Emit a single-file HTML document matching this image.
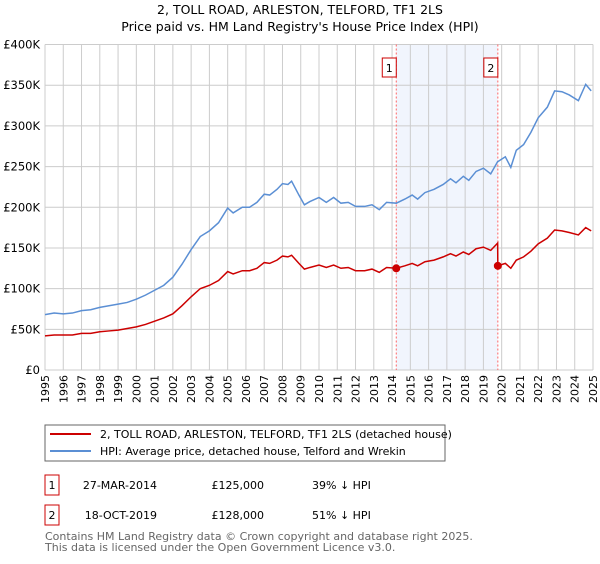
<!DOCTYPE html>
<html><head><meta charset="utf-8"><style>
body{margin:0;background:#fff;font-family:"DejaVu Sans","Liberation Sans",sans-serif;}
svg text{font-family:"DejaVu Sans","Liberation Sans",sans-serif;}
</style></head><body>
<svg id="chart" width="600" height="560" viewBox="0 0 600 560" xmlns="http://www.w3.org/2000/svg">
<text x="300" y="14" text-anchor="middle" font-size="12.5" fill="#000">2, TOLL ROAD, ARLESTON, TELFORD, TF1 2LS</text>
<text x="300" y="31" text-anchor="middle" font-size="12.5" fill="#000">Price paid vs. HM Land Registry's House Price Index (HPI)</text>
<g id="grid"></g>
<g id="marks"></g>
<g id="legend">
<rect x="45" y="425" width="400" height="36" fill="#fff" stroke="#666"/>
<line x1="50" y1="434" x2="91" y2="434" stroke="#cc0000" stroke-width="2"/>
<text x="100" y="438" font-size="11">2, TOLL ROAD, ARLESTON, TELFORD, TF1 2LS (detached house)</text>
<line x1="50" y1="451" x2="91" y2="451" stroke="#5b8fd4" stroke-width="2"/>
<text x="100" y="455" font-size="11">HPI: Average price, detached house, Telford and Wrekin</text>
</g>
<g font-size="11">
<rect x="45" y="475" width="14" height="20" fill="#fff" stroke="#cc0000"/>
<text x="52" y="489" text-anchor="middle">1</text>
<text x="157" y="489" text-anchor="end">27-MAR-2014</text>
<text x="264" y="489" text-anchor="end">£125,000</text>
<text x="312" y="489">39% ↓ HPI</text>
<rect x="45" y="505" width="14" height="20" fill="#fff" stroke="#cc0000"/>
<text x="52" y="519" text-anchor="middle">2</text>
<text x="157" y="519" text-anchor="end">18-OCT-2019</text>
<text x="264" y="519" text-anchor="end">£128,000</text>
<text x="312" y="519">51% ↓ HPI</text>
</g>
<text x="45" y="540" font-size="11" fill="#666">Contains HM Land Registry data © Crown copyright and database right 2025.</text>
<text x="45" y="551" font-size="11" fill="#666">This data is licensed under the Open Government Licence v3.0.</text>
</svg>
<script>
const years=[1995.0,1995.5,1996.0,1996.5,1997.0,1997.5,1998.0,1998.5,1999.0,1999.5,2000.0,2000.5,2001.0,2001.5,2002.0,2002.5,2003.0,2003.5,2004.0,2004.5,2005.0,2005.3,2005.8,2006.2,2006.6,2007.0,2007.3,2007.7,2008.0,2008.3,2008.5,2008.9,2009.2,2009.5,2010.0,2010.4,2010.8,2011.2,2011.6,2012.0,2012.5,2012.9,2013.3,2013.7,2014.23,2014.7,2015.1,2015.4,2015.8,2016.3,2016.8,2017.2,2017.5,2017.9,2018.2,2018.6,2019.0,2019.4,2019.78,2019.79,2020.2,2020.5,2020.8,2021.2,2021.6,2022.0,2022.5,2022.9,2023.3,2023.7,2024.2,2024.6,2024.9];
const hpi=[68,70,69,70,73,74,77,79,81,83,87,92,98,104,114,130,148,164,171,181,199,193,200,200,206,216,215,222,229,228,232,215,203,207,212,206,212,205,206,201,201,203,197,206,205,210,215,210,218,222,228,235,230,238,233,244,248,241,256,256,262,249,270,277,292,310,323,343,342,338,331,351,343];
const price=[42,43,43,43,45,45,47,48,49,51,53,56,60,64,69,79,90,100,104,110,121,118,122,122,125,132,131,135,140,139,141,131,124,126,129,126,129,125,126,122,122,124,120,126,125,128,131,128,133,135,139,143,140,145,142,149,151,147,156,128,131,125,135,139,146,155,162,172,171,169,166,175,171];
const saleYears=[2014.23,2019.79];
const salePrices=[125,128];
const saleLabels=["1","2"];
const yTicks=[0,50,100,150,200,250,300,350,400];
const yTickLabels=["£0","£50K","£100K","£150K","£200K","£250K","£300K","£350K","£400K"];
const xTicks=[1995,1996,1997,1998,1999,2000,2001,2002,2003,2004,2005,2006,2007,2008,2009,2010,2011,2012,2013,2014,2015,2016,2017,2018,2019,2020,2021,2022,2023,2024,2025];

const X0=45,X1=593,Y0=370,Y1=44.5;
const xs=y=>X0+(y-1995)/30*(X1-X0);
const ys=v=>Y0-v/400*(Y0-Y1);
const NS="http://www.w3.org/2000/svg";
const grid=document.getElementById('grid'), marks=document.getElementById('marks');
function mk(tag,attrs,parent){const e=document.createElementNS(NS,tag);for(const k in attrs)e.setAttribute(k,attrs[k]);parent.appendChild(e);return e;}

const sh=mk('rect',{x:xs(saleYears[0]),y:Y1,width:xs(saleYears[1])-xs(saleYears[0]),height:Y0-Y1,fill:'#eef2fc',opacity:'0.8'},grid);


xTicks.forEach(t=>{
  const l=mk('line',{x1:xs(t),x2:xs(t),y1:Y1,y2:Y0,stroke:'#cccccc','stroke-width':1},grid);
  
  
  const g=mk('g',{transform:'translate('+(xs(t)+4)+',375) rotate(-90)'},grid);
  const tx=mk('text',{x:0,y:0,'font-size':11,'text-anchor':'end'},g);
  tx.textContent=String(t);
  
  
});
yTicks.forEach((t,i)=>{
  const l=mk('line',{x1:X0,x2:X1,y1:ys(t),y2:ys(t),stroke:'#cccccc','stroke-width':1},grid);
  
  
  const tx=mk('text',{x:40,y:ys(t)+4,'font-size':11.5,'text-anchor':'end'},grid);
  tx.textContent=yTickLabels[i];
  
  
});
saleYears.forEach((s,i)=>{
  const l=mk('line',{x1:xs(s),x2:xs(s),y1:Y1,y2:Y0,stroke:'#ff6666','stroke-width':1,'stroke-dasharray':'2,2'},grid);
  
  
  const r=mk('rect',{x:xs(s)-14,y:58,width:14,height:19,fill:'#fff',stroke:'#cc0000'},grid);
  
  
  const t=mk('text',{x:xs(s)-7,y:72,'font-size':11,'text-anchor':'middle'},grid);
  t.textContent=saleLabels[i];
  
  
});
const hp=mk('polyline',{points:years.map((y,i)=>xs(y)+','+ys(hpi[i])).join(' '),fill:'none',stroke:'#5b8fd4','stroke-width':1.5},marks);


const pp=mk('polyline',{points:years.map((y,i)=>xs(y)+','+ys(price[i])).join(' '),fill:'none',stroke:'#cc0000','stroke-width':1.5},marks);


saleYears.forEach((s,i)=>{
  const c=mk('circle',{cx:xs(s),cy:ys(salePrices[i]),r:4,fill:'#cc0000'},marks);
  
  
});
</script>
</body></html>
